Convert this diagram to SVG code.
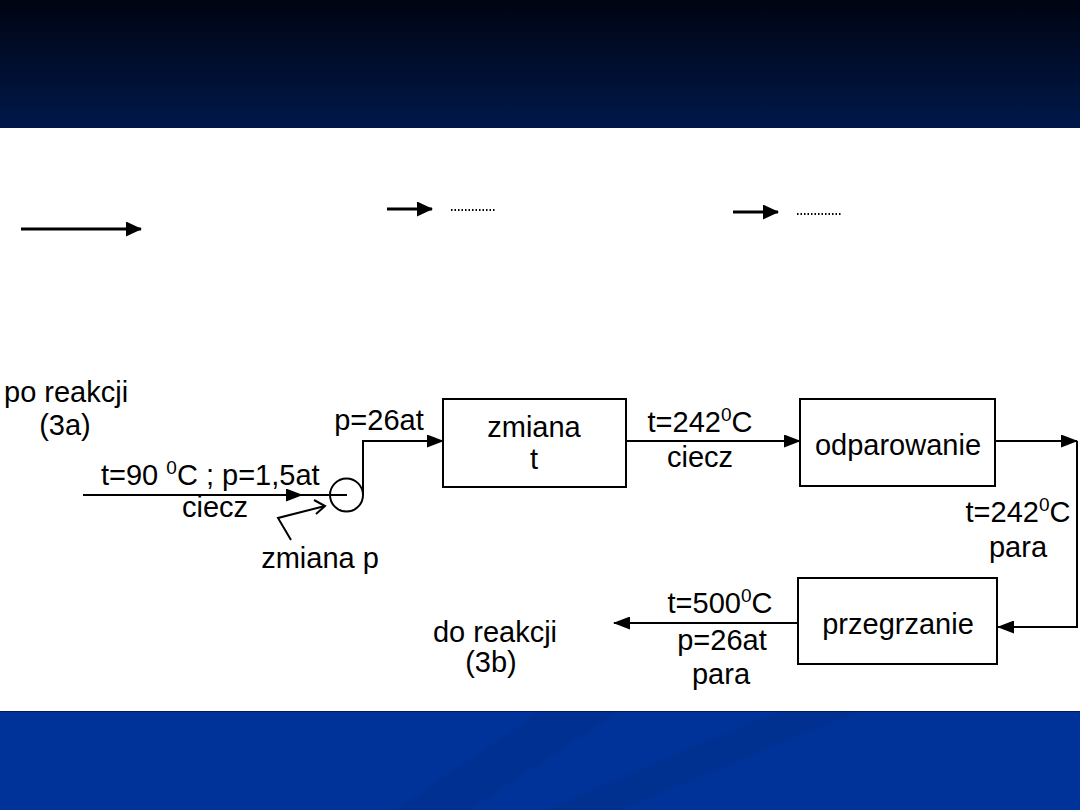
<svg xmlns="http://www.w3.org/2000/svg" width="1080" height="810" viewBox="0 0 1080 810">
<defs>
<linearGradient id="hdr" x1="0" y1="0" x2="0" y2="1">
<stop offset="0" stop-color="#000412"/>
<stop offset="1" stop-color="#00184a"/>
</linearGradient>
<marker id="ah" markerUnits="userSpaceOnUse" markerWidth="17" markerHeight="13" refX="16" refY="6.5" orient="auto">
<path d="M0,0 L17,6.5 L0,13 Z" fill="#000"/>
</marker>
<marker id="ahl" markerUnits="userSpaceOnUse" markerWidth="16" markerHeight="15" refX="15" refY="7.5" orient="auto">
<path d="M0,0 L16,7.5 L0,15 Z" fill="#000"/>
</marker>
<style>
.t{font-family:"Liberation Sans",Arial,sans-serif;font-size:29px;fill:#000}
.m{text-anchor:middle}
.ln{fill:none;stroke:#000;stroke-width:2}
.lg{fill:none;stroke:#000;stroke-width:3}
.bx{fill:#fff;stroke:#000;stroke-width:2}
.dot{fill:none;stroke:#000;stroke-width:2;stroke-dasharray:1.5 2}
</style>
</defs>
<rect x="0" y="0" width="1080" height="810" fill="#fff"/>
<rect x="0" y="0" width="1080" height="128" fill="url(#hdr)"/>
<rect x="0" y="711" width="1080" height="99" fill="#003399"/>
<polygon points="540,711 620,711 470,810 395,810" fill="#002a80" opacity="0.25"/>
<polygon points="778,711 858,711 620,810 545,810" fill="#002a80" opacity="0.35"/>
<line x1="0" y1="711.5" x2="1080" y2="711.5" stroke="#001a66" stroke-width="1"/>

<g id="legend">
<line class="lg" x1="21" y1="229" x2="141" y2="229" marker-end="url(#ahl)"/>
<line class="lg" x1="387" y1="209" x2="432" y2="209" marker-end="url(#ahl)"/>
<line class="dot" x1="451" y1="210" x2="495" y2="210"/>
<line class="lg" x1="733" y1="212" x2="778" y2="212" marker-end="url(#ahl)"/>
<line class="dot" x1="797" y1="214" x2="842" y2="214"/>
</g>

<g id="connectors">
<line class="ln" x1="83" y1="495" x2="302" y2="495" marker-end="url(#ah)"/>
<line class="ln" x1="300" y1="495" x2="347" y2="495"/>
<path class="ln" d="M363,495 V441 H443" marker-end="url(#ah)"/>
<line class="ln" x1="626" y1="441" x2="800" y2="441" marker-end="url(#ah)"/>
<line class="ln" x1="995" y1="441" x2="1077" y2="441" marker-end="url(#ah)"/>
<path class="ln" d="M1077,441 V627 H998" marker-end="url(#ah)"/>
<line class="ln" x1="798" y1="623" x2="614" y2="623" marker-end="url(#ah)"/>
<path class="ln" d="M291,540 L278,518 L325,506"/>
<path class="ln" d="M314,500 L325,506 L316,514"/>
</g>

<g id="pump">
<circle class="ln" cx="346.5" cy="495" r="16.5"/>
</g>

<g id="box-zmiana-t">
<rect class="bx" x="443" y="399" width="183" height="88"/>
<text class="t m" x="534" y="437">zmiana</text>
<text class="t m" x="534" y="469">t</text>
</g>

<g id="box-odparowanie">
<rect class="bx" x="800" y="399" width="195" height="87"/>
<text class="t m" x="898" y="455">odparowanie</text>
</g>

<g id="box-przegrzanie">
<rect class="bx" x="798" y="578" width="199" height="86"/>
<text class="t m" x="898" y="634">przegrzanie</text>
</g>

<g id="labels">
<text class="t" x="4" y="402">po reakcji</text>
<text class="t m" x="65" y="435">(3a)</text>
<text class="t m" x="379" y="430">p=26at</text>
<text class="t" x="101" y="485">t=90 <tspan font-size="19" dy="-11">0</tspan><tspan dy="11">C ; p=1,5at</tspan></text>
<text class="t m" x="215" y="517">ciecz</text>
<text class="t m" x="320" y="568">zmiana p</text>
<text class="t m" x="700" y="432">t=242<tspan font-size="19" dy="-11">0</tspan><tspan dy="11">C</tspan></text>
<text class="t m" x="700" y="467">ciecz</text>
<text class="t m" x="1018" y="522">t=242<tspan font-size="19" dy="-11">0</tspan><tspan dy="11">C</tspan></text>
<text class="t m" x="1018" y="557">para</text>
<text class="t m" x="720" y="613">t=500<tspan font-size="19" dy="-11">0</tspan><tspan dy="11">C</tspan></text>
<text class="t m" x="722" y="650">p=26at</text>
<text class="t m" x="721" y="684">para</text>
<text class="t m" x="495" y="642">do reakcji</text>
<text class="t m" x="491" y="672">(3b)</text>
</g>
</svg>
